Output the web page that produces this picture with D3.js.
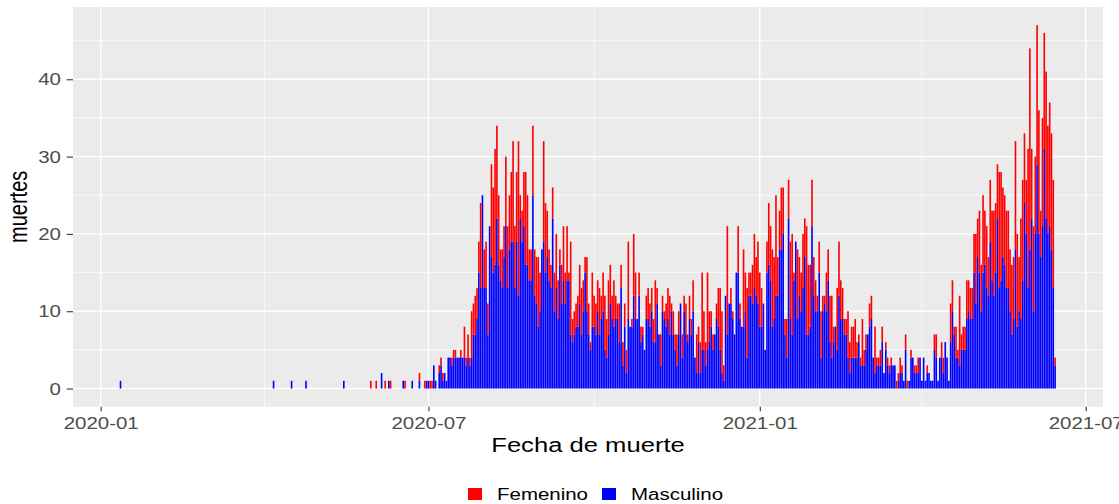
<!DOCTYPE html>
<html>
<head>
<meta charset="utf-8">
<script src="https://cdn.jsdelivr.net/npm/d3@7"></script>
<style>
  body { margin: 0; background: #fff; }
  svg { display: block; font-family: "Liberation Sans", Arial, sans-serif; }
</style>
</head>
<body>
<svg width="1119" height="504"></svg>
<script>
// muertes diarias por sexo (lectura aproximada del gráfico)
const earlyDates = ["2020-01-12", "2020-04-06", "2020-04-16", "2020-04-24", "2020-05-15", "2020-05-30",
    "2020-06-02", "2020-06-05", "2020-06-07", "2020-06-09", "2020-06-10", "2020-06-17", "2020-06-18", "2020-06-22"];
const earlyFem = [0, 0, 0, 0, 0, 1, 1, 0, 1, 0, 1, 0, 1, 0];
const earlyMasc = [1, 1, 1, 1, 1, 0, 0, 2, 0, 1, 0, 1, 0, 1];

const dailyStart = "2020-06-26";
const femenino = [
    // jun 26 - ago 17
    1, 0, 0, 1, 0, 0, 1, 1, 0, 0, 0, 1, 1, 1, 0, 0, 0, 0, 1, 1, 1, 0, 0, 1, 0, 4, 1, 3, 1, 6,
    4, 5, 4, 4, 11, 0, 5, 6, 4, 0, 12, 11, 15, 12, 9, 4, 5, 4, 9, 8, 7, 9, 13,
    // ago 18 - oct 8
    8, 9, 20, 3, 4, 7, 12, 9, 4, 4, 9, 6, 6, 9, 5, 0, 13, 9, 6, 4, 3, 4, 5, 7, 5, 2, 5, 7, 4, 7,
    1, 12, 3, 3, 3, 4, 5, 6, 4, 2, 7, 4, 1, 7, 4, 4, 4, 6, 3, 5, 7, 5,
    // oct 9 - dic 1
    7, 5, 3, 6, 3, 2, 5, 3, 3, 3, 3, 10, 0, 1, 8, 6, 0, 3, 2, 1, 0, 3, 4, 3, 3, 3, 8, 2, 0, 4,
    2, 1, 3, 4, 5, 1, 3, 2, 4, 3, 0, 3, 2, 4, 1, 3, 2, 4, 0, 5, 2, 4, 10, 5,
    // dic 2 - ene 25
    3, 10, 4, 2, 2, 0, 2, 5, 8, 8, 2, 0, 14, 0, 2, 1, 0, 0, 6, 2, 0, 10, 5, 9, 3, 3, 5, 7, 5, 8,
    7, 5, 0, 0, 4, 8, 7, 10, 8, 13, 5, 5, 8, 6, 2, 5, 5, 10, 13, 1, 0, 9, 5, 5, 7,
    // ene 26 - mar 16
    5, 14, 9, 8, 6, 5, 4, 2, 4, 6, 2, 1, 5, 4, 6, 8, 2, 0, 8, 7, 5, 4, 2, 2, 6, 4, 4, 4, 5, 2,
    1, 1, 6, 2, 2, 0, 3, 3, 0, 6, 1, 1, 2, 2, 0, 1, 1, 1, 1, 0,
    // mar 17 - abr 28
    0, 1, 1, 2, 1, 0, 2, 1, 0, 1, 0, 1, 1, 2, 0, 0, 0, 0, 1, 0, 0, 0, 2, 3, 0, 0, 2, 2, 0, 0,
    0, 5, 4, 1, 4, 1, 9, 2, 3, 3, 5, 4, 4,
    // abr 29 - jun 14
    4, 5, 9, 5, 8, 6, 10, 7, 8, 5, 8, 9, 11, 9, 7, 15, 14, 9, 9, 10, 10, 8, 9, 8, 14, 12, 7, 13, 13, 9,
    7, 18, 26, 9, 11, 10, 18, 16, 6, 14, 15, 19, 14, 16, 15, 14, 1
];
const masculino = [
    1, 0, 0, 0, 1, 1, 0, 0, 3, 1, 0, 2, 3, 1, 2, 1, 4, 4, 3, 4, 4, 4, 4, 4, 4, 4, 3, 4, 3, 4,
    7, 7, 9, 15, 13, 25, 13, 13, 7, 21, 17, 15, 16, 22, 16, 14, 13, 17, 21, 13, 18, 19, 19,
    13, 19, 12, 22, 19, 21, 16, 16, 14, 14, 25, 12, 11, 8, 10, 18, 19, 15, 17, 14, 13, 22, 10, 13, 9, 16,
    11, 14, 11, 14, 14, 7, 6, 7, 8, 8, 11, 7, 10, 15, 10, 7, 5, 8, 8, 7, 10, 7, 9, 10, 5, 4,
    7, 11, 9, 8, 9, 9, 6, 13, 3, 8, 2, 9, 8, 8, 12, 9, 9, 12, 6, 7, 5, 9, 9, 8, 10, 6, 6, 11, 7, 3,
    10, 9, 8, 9, 7, 10, 7, 5, 3, 7, 11, 4, 10, 7, 6, 9, 7, 10, 4, 2, 6, 2, 5, 5,
    3, 5, 6, 8, 5, 7, 9, 8, 5, 2, 1, 12, 7, 11, 11, 9, 7, 15, 15, 9, 8, 8, 10, 4, 12, 12, 11, 13, 12, 11,
    8, 8, 11, 5, 15, 16, 14, 8, 9, 12, 12, 18, 18, 20, 7, 4, 22, 9, 7, 14, 19, 9, 12, 10, 13,
    17, 7, 7, 8, 21, 12, 10, 10, 15, 4, 10, 11, 10, 14, 6, 4, 6, 8, 5, 12, 9, 9, 7, 7, 4, 2, 4, 4, 4, 4,
    6, 3, 3, 3, 5, 7, 8, 9, 4, 2, 3, 3, 3, 6, 2, 5, 3, 2, 3, 3,
    3, 0, 1, 2, 2, 1, 5, 0, 1, 4, 4, 2, 2, 2, 4, 1, 4, 1, 2, 2, 1, 1, 5, 4, 1, 4, 4, 2, 6, 4,
    1, 6, 10, 7, 4, 4, 3, 5, 5, 5, 9, 10, 9,
    9, 15, 11, 17, 15, 10, 15, 16, 13, 12, 19, 14, 12, 15, 22, 13, 14, 17, 16, 13, 13, 10, 7, 9, 18, 8, 10, 9, 14, 24,
    20, 13, 18, 22, 10, 20, 29, 20, 17, 21, 31, 22, 20, 21, 18, 13, 3
];

const sexos = ["Femenino", "Masculino"];
const colores = ["#FF0000", "#0000FF"];
const yMajor = [0, 10, 20, 30, 40];
const yMinor = [5, 15, 25, 35, 45];
const xMajor = ["2020-01-01", "2020-07-01", "2021-01-01", "2021-07-01"];
const xMinor = ["2020-04-01", "2020-10-01", "2021-04-01"];

const parse = d3.utcParse("%Y-%m-%d");
const sx = 1.28; // el gráfico original está estirado en horizontal

// armar registros por día
const rows = [];
earlyDates.forEach((d, i) => rows.push({ date: parse(d), f: earlyFem[i], m: earlyMasc[i] }));
const start = parse(dailyStart);
femenino.forEach((f, i) => rows.push({ date: d3.utcDay.offset(start, i), f: f, m: masculino[i] }));

const svg = d3.select("svg");
const pLeft = 73, pRight = 1103, pTop = 7, pBottom = 406.7;

const x = d3.scaleUtc()
    .domain([parse("2020-01-01"), parse("2021-07-01")])
    .range([100.7, 1085.7]);
const y = d3.scaleLinear()
    .domain([-2.35, 49.35])
    .range([pBottom, pTop]);

// panel
svg.append("rect")
    .attr("x", pLeft).attr("y", pTop)
    .attr("width", pRight - pLeft).attr("height", pBottom - pTop)
    .attr("fill", "#EBEBEB");

const grid = svg.append("g");
grid.selectAll(".hmin").data(yMinor).enter().append("line")
    .attr("x1", pLeft).attr("x2", pRight)
    .attr("y1", d => y(d)).attr("y2", d => y(d))
    .attr("stroke", "#fff").attr("stroke-width", 0.7);
grid.selectAll(".vmin").data(xMinor).enter().append("line")
    .attr("y1", pTop).attr("y2", pBottom)
    .attr("x1", d => x(parse(d))).attr("x2", d => x(parse(d)))
    .attr("stroke", "#fff").attr("stroke-width", 0.7);
grid.selectAll(".hmaj").data(yMajor).enter().append("line")
    .attr("x1", pLeft).attr("x2", pRight)
    .attr("y1", d => y(d)).attr("y2", d => y(d))
    .attr("stroke", "#fff").attr("stroke-width", 1.4);
grid.selectAll(".vmaj").data(xMajor).enter().append("line")
    .attr("y1", pTop).attr("y2", pBottom)
    .attr("x1", d => x(parse(d))).attr("x2", d => x(parse(d)))
    .attr("stroke", "#fff").attr("stroke-width", 1.4);

// barras apiladas: Masculino abajo, Femenino arriba
const halfW = (x(d3.utcDay.offset(start, 1)) - x(start)) * 0.45;
const bars = svg.append("g");
bars.selectAll(".masc").data(rows.filter(d => d.m > 0)).enter().append("rect")
    .attr("x", d => x(d.date) - halfW)
    .attr("width", halfW * 2)
    .attr("y", d => y(d.m))
    .attr("height", d => y(0) - y(d.m))
    .attr("fill", colores[1]);
bars.selectAll(".fem").data(rows.filter(d => d.f > 0)).enter().append("rect")
    .attr("x", d => x(d.date) - halfW)
    .attr("width", halfW * 2)
    .attr("y", d => y(d.m + d.f))
    .attr("height", d => y(d.m) - y(d.m + d.f))
    .attr("fill", colores[0]);

// ejes
const yAxis = svg.append("g")
    .attr("transform", `translate(${pLeft},0)`)
    .call(d3.axisLeft(y).tickValues(yMajor).tickSize(6.3).tickPadding(0));
yAxis.select(".domain").remove();
yAxis.selectAll("line").attr("stroke", "#333").attr("stroke-width", 1.1);
yAxis.selectAll("text")
    .attr("x", 0).attr("dy", "0.35em")
    .attr("transform", `translate(-12,0) scale(${sx},1)`)
    .attr("fill", "#4D4D4D").attr("font-size", 16)
    .attr("font-family", "Liberation Sans, Arial, sans-serif");

const xAxis = svg.append("g")
    .attr("transform", `translate(0,${pBottom})`)
    .call(d3.axisBottom(x).tickValues(xMajor.map(parse)).tickFormat(d3.utcFormat("%Y-%m")).tickSize(4.5).tickPadding(0));
xAxis.select(".domain").remove();
xAxis.selectAll("line").attr("stroke", "#333").attr("stroke-width", 1.1);
xAxis.selectAll("text")
    .attr("y", 0).attr("dy", 0)
    .attr("transform", `translate(0,22.6) scale(${sx},1)`)
    .attr("fill", "#4D4D4D").attr("font-size", 16)
    .attr("font-family", "Liberation Sans, Arial, sans-serif");

// títulos
svg.append("text")
    .attr("transform", `translate(${(pLeft + pRight) / 2},452) scale(${sx},1)`)
    .attr("text-anchor", "middle")
    .attr("font-size", 20)
    .text("Fecha de muerte");
svg.append("text")
    .attr("transform", `translate(27,${(pTop + pBottom) / 2}) scale(${sx},1) rotate(-90)`)
    .attr("text-anchor", "middle")
    .attr("font-size", 20)
    .text("muertes");

// leyenda
const legendX = [468, 602];
const legend = svg.append("g");
sexos.forEach((s, i) => {
    legend.append("rect")
        .attr("x", legendX[i]).attr("y", 488)
        .attr("width", 14).attr("height", 12)
        .attr("fill", colores[i]);
    legend.append("text")
        .attr("transform", `translate(${legendX[i] + 29},499.5) scale(${sx},1)`)
        .attr("font-size", 16)
        .text(s);
});
</script>
</body>
</html>
